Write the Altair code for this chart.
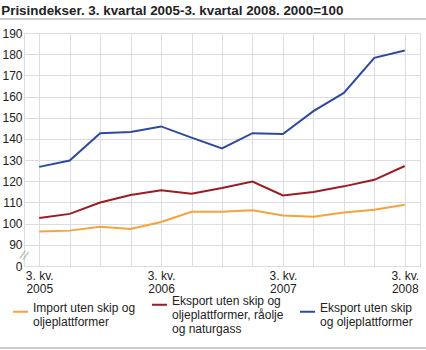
import altair as alt
import pandas as pd

quarters = ["2005Q3", "2005Q4", "2006Q1", "2006Q2", "2006Q3", "2006Q4", "2007Q1",
            "2007Q2", "2007Q3", "2007Q4", "2008Q1", "2008Q2", "2008Q3"]
import_vals = [96.3, 96.7, 98.5, 97.5, 100.8, 105.6, 105.6, 106.3, 103.8, 103.3, 105.3, 106.6, 108.9]
eksport_ex_olje = [102.7, 104.6, 110.0, 113.5, 115.7, 114.1, 116.8, 119.9, 113.3, 114.9, 117.6, 120.7, 127.2]
eksport_total = [126.8, 129.8, 142.7, 143.3, 145.9, 140.6, 135.5, 142.7, 142.3, 153.1, 161.7, 178.3, 181.7]
series_names = ["Import uten skip og\noljeplattformer",
                "Eksport uten skip og\noljeplattformer, råolje\nog naturgass",
                "Eksport uten skip\nog oljeplattformer"]
colors = ["#F7A23A", "#9B1C23", "#2D4AA0"]

rows = []
for name, vals in zip(series_names, [import_vals, eksport_ex_olje, eksport_total]):
    for q, v in zip(quarters, vals):
        rows.append({"kvartal": q, "serie": name, "verdi": v})
df = pd.DataFrame(rows)

FONT = "Liberation Sans"
grid = "#DCDCE2"

x = alt.X("kvartal:O", sort=quarters,
          scale=alt.Scale(type="point", padding=0.5),
          axis=alt.Axis(title=None, labelAngle=0, ticks=False, domain=False,
                        grid=True, gridColor=grid, gridWidth=1,
                        labelExpr="slice(datum.value,4)=='Q3' ? ['3. kv.', slice(datum.value,0,4)] : ''",
                        labelFont=FONT, labelFontSize=12, labelColor="#222222",
                        labelPadding=4, labelLineHeight=13, labelOverlap=False))

lines = alt.Chart(df).mark_line(strokeWidth=2).encode(
    x=x,
    y=alt.Y("verdi:Q", scale=alt.Scale(domain=[80, 190], nice=False, zero=False),
            axis=alt.Axis(title=None, tickCount=11, ticks=False,
                          domainColor=grid, gridColor=grid, labelOverlap=False,
                          labelFlush=False,
                          labelExpr="datum.value == 80 ? '0' : datum.label",
                          labelFont=FONT, labelFontSize=12, labelColor="#222222",
                          labelPadding=2)),
    color=alt.Color("serie:N", sort=series_names,
                    scale=alt.Scale(domain=series_names, range=colors),
                    legend=alt.Legend(title=None, orient="none", legendX=-12, legendY=263,
                                      direction="horizontal",
                                      columns=3, symbolType="stroke", symbolStrokeWidth=2,
                                      symbolSize=225, columnPadding=12,
                                      labelExpr="split(datum.label, '\\n')",
                                      labelFont=FONT, labelFontSize=12, labelColor="#222222",
                                      labelLimit=200, labelBaseline="alphabetic", labelOffset=4))
)

brk = alt.Chart(pd.DataFrame({"v": [85]})).mark_text(
    text="//", font=FONT, fontSize=12, color="#AAAAAA", angle=20
).encode(y="v:Q", x=alt.value(0))

deco = alt.Chart(pd.DataFrame({"y": [-14, 315]})).mark_rule(
    color="#BBBBBB", strokeWidth=1.5, clip=False
).encode(y=alt.Y("y:Q", scale=None), x=alt.value(-24), x2=alt.value(402))

chart = alt.layer(lines, brk, deco).properties(
    width=396, height=233,
    title=alt.TitleParams("Prisindekser. 3. kvartal 2005-3. kvartal 2008. 2000=100",
                          anchor="start", font=FONT, fontSize=13.4, fontWeight="bold",
                          color="#222222", dx=2, offset=1),
    padding={"left": 24, "top": 33, "right": 6, "bottom": 84},
    autosize=alt.AutoSizeParams(type="none")
).configure_view(stroke=grid).configure(background="white")

chart.save("out.html", embed_options={"renderer": "svg", "actions": False})
